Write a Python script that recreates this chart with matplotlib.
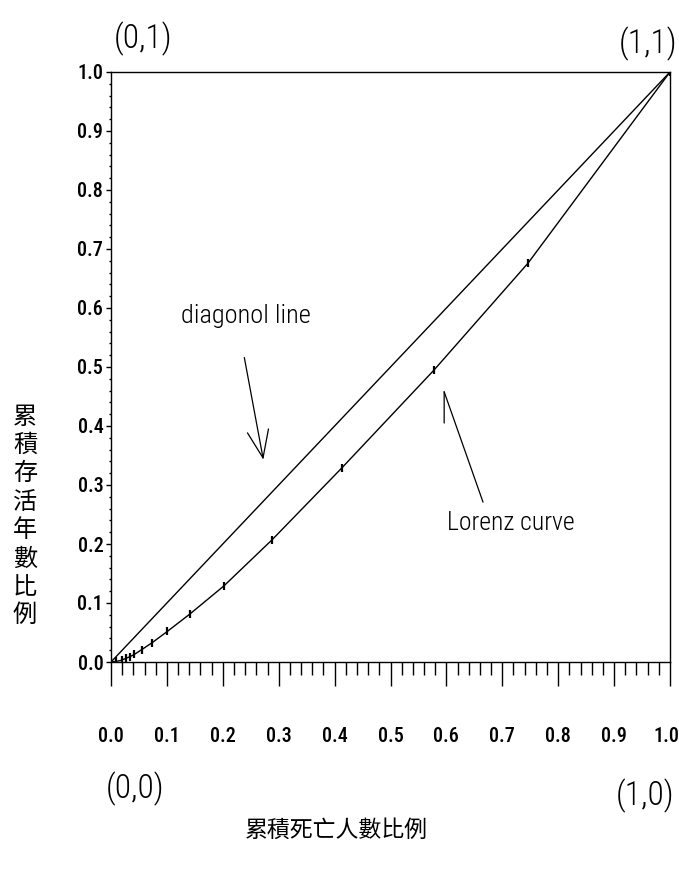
import os
import matplotlib
matplotlib.use("Agg")
import matplotlib.pyplot as plt
from matplotlib import font_manager as fm
from matplotlib.ticker import MultipleLocator
from matplotlib.transforms import ScaledTranslation

# Lorenz curve: cumulative share of deaths (x) vs cumulative share of years survived (y)
death_share = [0.0, 0.009, 0.019, 0.026, 0.034, 0.042, 0.055, 0.074, 0.101,
               0.142, 0.202, 0.288, 0.413, 0.578, 0.746, 1.0]
survival_share = [0.0, 0.001, 0.003, 0.006, 0.009, 0.013, 0.021, 0.033, 0.052,
                  0.082, 0.129, 0.207, 0.329, 0.495, 0.676, 1.0]

# line of perfect equality
diagonal_x = [0.0, 1.0]
diagonal_y = [0.0, 1.0]

tick_values = [0.0, 0.1, 0.2, 0.3, 0.4, 0.5, 0.6, 0.7, 0.8, 0.9, 1.0]
tick_labels = ["0.0", "0.1", "0.2", "0.3", "0.4", "0.5", "0.6", "0.7", "0.8", "0.9", "1.0"]

corner_labels = ["(0,1)", "(1,1)", "(0,0)", "(1,0)"]
x_title = "累積死亡人數比例"
y_title = "累積存活年數比例"


def find_font(*patterns, fallback="DejaVu Sans"):
    files = sorted(set(f.fname for f in fm.fontManager.ttflist))
    for pat in patterns:
        for path in files:
            base = os.path.basename(path)
            if pat in base and "Italic" not in base:
                return fm.FontProperties(fname=path)
    return fm.FontProperties(family=fallback)


tick_font = find_font("RobotoCondensed-Medium.", "RobotoCondensed-Regular.",
                      "NotoSans-ExtraCondensedMedium.", "NotoSans-CondensedMedium.",
                      "LiberationSansNarrow-Regular.", "DejaVuSansCondensed.")
note_font = find_font("RobotoCondensed-Light.", "NotoSans-ExtraCondensedLight.",
                      "NotoSans-ExtraCondensed.", "LiberationSansNarrow-Regular.",
                      "DejaVuSansCondensed.")
cjk = ["Noto Sans CJK TC", "DejaVu Sans"]

W, H = 679, 873
fig = plt.figure(figsize=(W / 100, H / 100), dpi=100)
ax_left, ax_right, ax_top, ax_bottom = 111, 670, 72, 662
ax = fig.add_axes([ax_left / W, 1 - ax_bottom / H,
                   (ax_right - ax_left) / W, (ax_bottom - ax_top) / H])

ax.plot(diagonal_x, diagonal_y, color="black", lw=1.0, solid_capstyle="butt")
ax.plot(death_share, survival_share, color="black", lw=1.0,
        marker="|", markersize=6, markeredgewidth=1.6)

ax.set_xlim(0, 1)
ax.set_ylim(0, 1)
for s in ax.spines.values():
    s.set_linewidth(1.0)

ax.set_xticks(tick_values, tick_labels)
ax.set_yticks(tick_values, tick_labels)
ax.xaxis.set_minor_locator(MultipleLocator(0.02))
ax.yaxis.set_minor_locator(MultipleLocator(0.02))
ax.tick_params(axis="x", which="major", direction="out", length=17, width=1.0, pad=30)
ax.tick_params(axis="x", which="minor", direction="out", length=9.5, width=1.0)
ax.tick_params(axis="y", which="major", direction="out", length=3.5, width=1.0, pad=2)
ax.tick_params(axis="y", which="minor", direction="out", length=1.8, width=1.0)
for lab in ax.get_xticklabels() + ax.get_yticklabels():
    lab.set_fontproperties(tick_font)
    lab.set_fontsize(14.5)

# keep the last x label inside the canvas
last = ax.get_xticklabels()[-1]
last.set_transform(last.get_transform()
                   + ScaledTranslation(-4 / 100, 0, fig.dpi_scale_trans))

# corner coordinate annotations
corner_pos = [(143, 39), (648, 44), (135, 789), (645, 796)]
for text, (px, py) in zip(corner_labels, corner_pos):
    fig.text(px / W, 1 - py / H, text, fontproperties=note_font, fontsize=24,
             ha="center", va="center")

# callouts for the two curves
ax.text(0.2406, 0.586, "diagonol line", fontproperties=note_font, fontsize=19,
        ha="center", va="center")
ax.annotate("", xy=(0.2725, 0.343), xytext=(0.2385, 0.516),
            arrowprops=dict(arrowstyle="->,head_length=0.9,head_width=0.35",
                            lw=0.9, color="black",
                            mutation_scale=22, shrinkA=0, shrinkB=0))
ax.text(0.716, 0.236, "Lorenz curve", fontproperties=note_font, fontsize=18.5,
        ha="center", va="center")
ax.annotate("", xy=(0.596, 0.458), xytext=(0.6655, 0.271),
            arrowprops=dict(arrowstyle="-", lw=0.9, color="black",
                            shrinkA=0, shrinkB=0))
ax.annotate("", xy=(0.596, 0.458), xytext=(0.596, 0.405),
            arrowprops=dict(arrowstyle="-", lw=0.9, color="black",
                            shrinkA=0, shrinkB=0))

# axis titles
fig.text(336 / W, 1 - 830 / H, x_title, family=cjk, fontsize=16.5,
         ha="center", va="center")
fig.text(25 / W, 1 - 516 / H, "\n".join(y_title), family=cjk, fontsize=17.4,
         ha="center", va="center", linespacing=1.12)

fig.savefig("out.png", dpi=100)
